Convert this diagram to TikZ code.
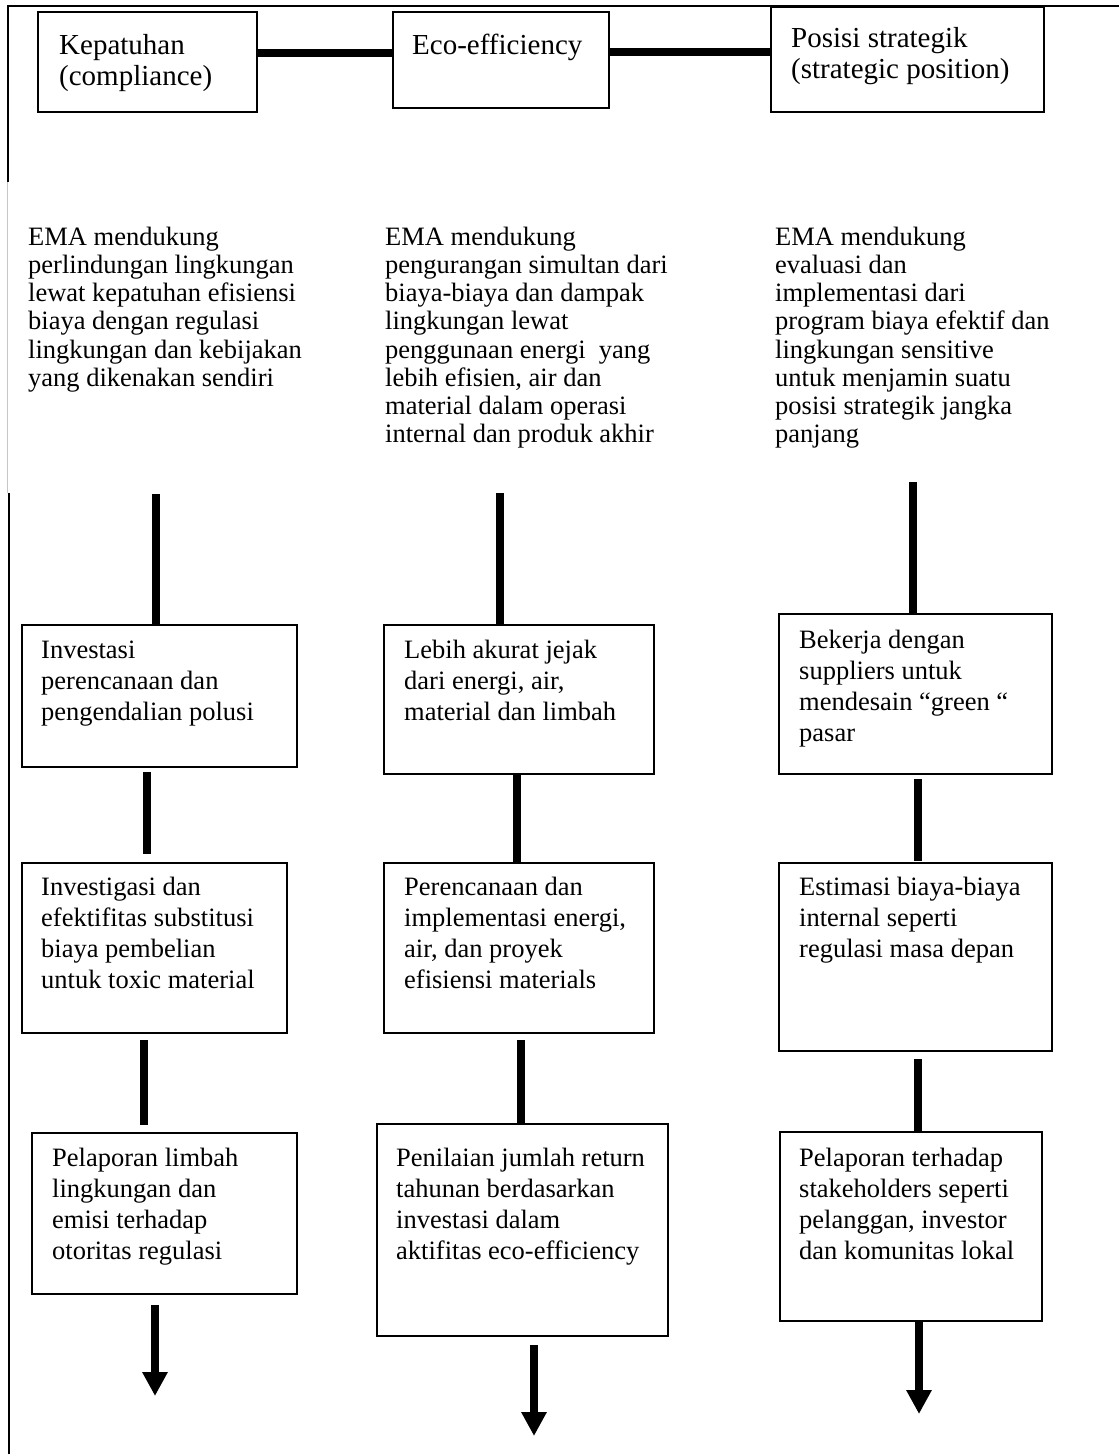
\documentclass[tikz,border=0pt]{standalone}
\usepackage{fontspec}
\setmainfont{Liberation Serif}
\usetikzlibrary{arrows.meta,calc}
\begin{document}
\begin{tikzpicture}[x=1pt,y=-1pt,
  frameline/.style={line width=2.5pt},
  boxnode/.style={draw, line width=1.8pt, rectangle, inner sep=0pt, anchor=north west},
  bar/.style={line width=8pt},
  hbar/.style={line width=7.5pt},
  arrowbar/.style={line width=8pt, -{Triangle[width=24pt,length=24pt]}},
  headtext/.style={inner sep=0pt, anchor=north west, align=left, font=\fontsize{29}{31}\selectfont},
  bodytext/.style={inner sep=0pt, anchor=north west, align=left, font=\fontsize{26.5}{31}\selectfont},
  desctext/.style={inner sep=0pt, anchor=north west, align=left, font=\fontsize{26.5}{28.2}\selectfont},
]
\useasboundingbox (0,0) rectangle (1119,1454);

% page frame (top and left rules)
\draw[frameline] (1119,6) -- (8,6) -- (8,182);
\draw[gray!45, line width=1pt] (7,182) -- (7,493);
\draw[frameline] (9,493) -- (9,1454);

% ---------- header boxes ----------
\node[boxnode, minimum width=219pt, minimum height=100pt] (hk) at (37,11) {};
\node[boxnode, minimum width=216pt, minimum height=96pt]  (he) at (392,11) {};
\node[boxnode, minimum width=273pt, minimum height=105pt] (hp) at (770,6) {};

\node[headtext] (hkt) at (59,32.3) {\strut Kepatuhan\\(compliance)};
\node[headtext] (het) at (412,32.3) {\strut Eco-efficiency};
\node[headtext] (hpt) at (791,25.3) {\strut Posisi strategik\\(strategic position)};

\coordinate (hy1) at (0,53);
\coordinate (hy2) at (0,52);
\draw[hbar] (hk.east |- hy1) -- (he.west |- hy1);
\draw[hbar] (he.east |- hy2) -- (hp.west |- hy2);

% ---------- descriptions ----------
\node[desctext] (d1) at (28,225.3) {\strut EMA mendukung\\perlindungan lingkungan\\lewat kepatuhan efisiensi\\biaya dengan regulasi\\lingkungan dan kebijakan\\yang dikenakan sendiri};
\node[desctext] (d2) at (385,225.3) {\strut EMA mendukung\\pengurangan simultan dari\\biaya-biaya dan dampak\\lingkungan lewat\\penggunaan energi\ \ yang\\lebih efisien, air dan\\material dalam operasi\\internal dan produk akhir};
\node[desctext] (d3) at (775,225.3) {\strut EMA mendukung\\evaluasi dan\\implementasi dari\\program biaya efektif dan\\lingkungan sensitive\\untuk menjamin suatu\\posisi strategik jangka\\panjang};

% ---------- column 1 ----------
\node[boxnode, minimum width=275pt, minimum height=142pt] (a1) at (21,624) {};
\node[boxnode, minimum width=265pt, minimum height=170pt] (a2) at (21,862) {};
\node[boxnode, minimum width=265pt, minimum height=161pt] (a3) at (31,1132) {};
\node[bodytext] (a1t) at (41,636.3) {\strut Investasi\\perencanaan dan\\pengendalian polusi};
\node[bodytext] (a2t) at (41,873.3) {\strut Investigasi dan\\efektifitas substitusi\\biaya pembelian\\untuk toxic material};
\node[bodytext] (a3t) at (52,1144.3) {\strut Pelaporan limbah\\lingkungan dan\\emisi terhadap\\otoritas regulasi};

% ---------- column 2 ----------
\node[boxnode, minimum width=270pt, minimum height=149pt] (b1) at (383,624) {};
\node[boxnode, minimum width=270pt, minimum height=170pt] (b2) at (383,862) {};
\node[boxnode, minimum width=291pt, minimum height=212pt] (b3) at (376,1123) {};
\node[bodytext] (b1t) at (404,636.3) {\strut Lebih akurat jejak\\dari energi, air,\\material dan limbah};
\node[bodytext] (b2t) at (404,873.3) {\strut Perencanaan dan\\implementasi energi,\\air, dan proyek\\efisiensi materials};
\node[bodytext] (b3t) at (396,1144.3) {\strut Penilaian jumlah return\\tahunan berdasarkan\\investasi dalam\\aktifitas eco-efficiency};

% ---------- column 3 ----------
\node[boxnode, minimum width=273pt, minimum height=160pt] (c1) at (778,613) {};
\node[boxnode, minimum width=273pt, minimum height=188pt] (c2) at (778,862) {};
\node[boxnode, minimum width=262pt, minimum height=189pt] (c3) at (779,1131) {};
\node[bodytext] (c1t) at (799,626.3) {\strut Bekerja dengan\\suppliers untuk\\mendesain “green “\\pasar};
\node[bodytext] (c2t) at (799,873.3) {\strut Estimasi biaya-biaya\\internal seperti\\regulasi masa depan};
\node[bodytext] (c3t) at (799,1144.3) {\strut Pelaporan terhadap\\stakeholders seperti\\pelanggan, investor\\dan komunitas lokal};

% ---------- vertical links ----------
\coordinate (ta) at (156,494);
\coordinate (tb) at (500,493);
\coordinate (tc) at (913,482);
\draw[bar] (ta) -- (ta |- a1.north);
\draw[bar] (tb) -- (tb |- b1.north);
\draw[bar] (tc) -- (tc |- c1.north);

\coordinate (xa1) at (147,0);
\coordinate (xa2) at (144,0);
\coordinate (xb1) at (517,0);
\coordinate (xb2) at (521,0);
\coordinate (xc1) at (918,0);
\coordinate (xc2) at (918,0);
\draw[bar, shorten <=4pt, shorten >=8pt] (a1.south -| xa1) -- (a2.north -| xa1);
\draw[bar, shorten <=6pt, shorten >=7pt] (a2.south -| xa2) -- (a3.north -| xa2);
\draw[bar] (b1.south -| xb1) -- (b2.north -| xb1);
\draw[bar, shorten <=6pt] (b2.south -| xb2) -- (b3.north -| xb2);
\draw[bar, shorten <=4pt, shorten >=1pt] (c1.south -| xc1) -- (c2.north -| xc1);
\draw[bar, shorten <=7pt] (c2.south -| xc2) -- (c3.north -| xc2);

% ---------- outgoing arrows ----------
\coordinate (ea) at (155,1396);
\coordinate (eb) at (534,1436);
\coordinate (ec) at (919,1414);
\draw[arrowbar, shorten <=10pt] (a3.south -| ea) -- (ea);
\draw[arrowbar, shorten <=8pt] (b3.south -| eb) -- (eb);
\draw[arrowbar] (c3.south -| ec) -- (ec);

\end{tikzpicture}
\end{document}
